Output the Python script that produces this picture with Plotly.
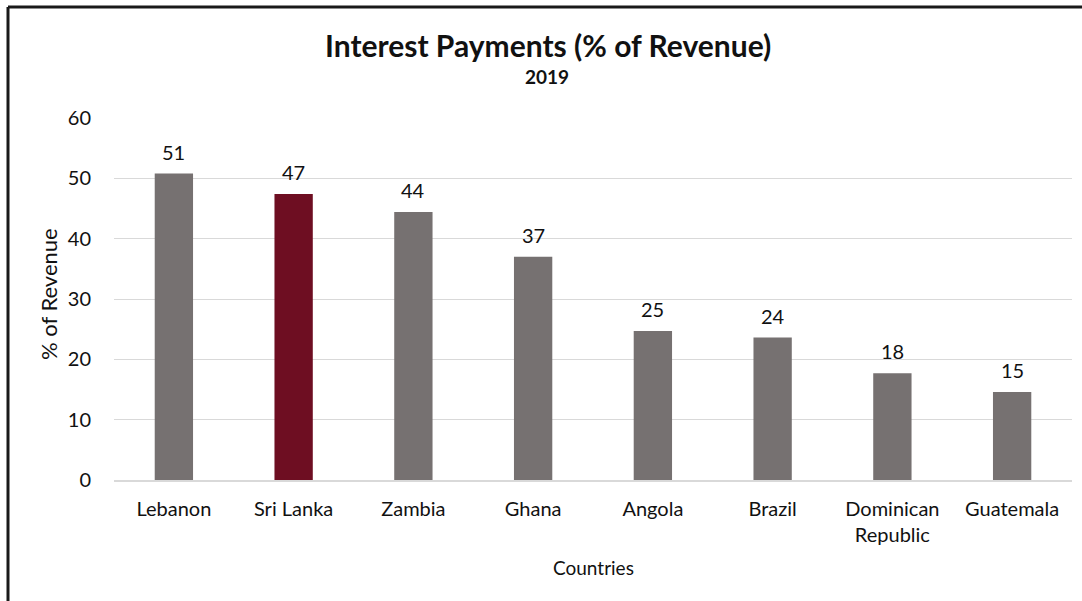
import plotly.graph_objects as go

# Interest payments as a share of government revenue, 2019
countries = ["Lebanon", "Sri Lanka", "Zambia", "Ghana", "Angola", "Brazil",
             "Dominican<br>Republic", "Guatemala"]
interest_pct = [50.8, 47.4, 44.4, 37.0, 24.7, 23.6, 17.7, 14.6]
highlight = "Sri Lanka"

y_ticks = [0, 10, 20, 30, 40, 50, 60]

GREY = "#767171"
MAROON = "#6e0e22"
FONT = "Lato, 'Open Sans', sans-serif"

W, H = 1082, 601
L, R, T, B = 114, 10, 118, 121
pw, ph = W - L - R, H - T - B


def px_x(x):
    return (x - L) / pw


def px_y(y):
    return (H - B - y) / ph


colors = [MAROON if c == highlight else GREY for c in countries]

fig = go.Figure(go.Bar(
    x=countries,
    y=interest_pct,
    marker=dict(color=colors, line=dict(width=0)),
    cliponaxis=False,
))

# value labels above each bar, rounded to whole percent
value_labels = [
    dict(x=c, y=v, xref="x", yref="y", text=f"{v:.0f}", showarrow=False,
         yanchor="bottom", yshift=8,
         font=dict(family=FONT, size=20, color="#111"))
    for c, v in zip(countries, interest_pct)
]

fig.update_layout(
    width=W, height=H,
    margin=dict(l=L, r=R, t=T, b=B),
    paper_bgcolor="white", plot_bgcolor="white",
    bargap=0.68,
    showlegend=False,
    font=dict(family=FONT, color="#111"),
    xaxis=dict(
        showgrid=False, showline=True, linecolor="#d9d9d9", linewidth=1.5,
        tickfont=dict(family=FONT, size=20, color="#111"),
        ticklabelstandoff=10, zeroline=False,
    ),
    yaxis=dict(
        range=[0, 60], tickvals=y_ticks,
        showgrid=True, gridcolor="#d9d9d9", gridwidth=1.2,
        zeroline=False, showline=False,
        tickfont=dict(family=FONT, size=20, color="#111"),
        ticklabelstandoff=22,
    ),
    annotations=value_labels + [
        dict(text="<b>Interest Payments (% of Revenue)</b>", xref="paper", yref="paper",
             x=px_x(548), y=px_y(45), yanchor="middle", showarrow=False,
             font=dict(family=FONT, size=30, color="#111")),
        dict(text="<b>2019</b>", xref="paper", yref="paper",
             x=px_x(547), y=px_y(77), yanchor="middle", showarrow=False,
             font=dict(family=FONT, size=19, color="#111")),
        dict(text="% of Revenue", xref="paper", yref="paper", textangle=-90,
             x=px_x(48), y=px_y(294), xanchor="center", yanchor="middle",
             showarrow=False, font=dict(family=FONT, size=22, color="#111")),
        dict(text="Countries", xref="paper", yref="paper",
             x=px_x(593), y=px_y(567), yanchor="middle", showarrow=False,
             font=dict(family=FONT, size=19, color="#111")),
    ],
    shapes=[
        dict(type="line", xref="paper", yref="paper",
             x0=px_x(8), x1=px_x(8), y0=px_y(7), y1=px_y(620),
             line=dict(color="#1a1a1a", width=3)),
        dict(type="line", xref="paper", yref="paper",
             x0=px_x(8), x1=px_x(1100), y0=px_y(7), y1=px_y(7),
             line=dict(color="#1a1a1a", width=3)),
    ],
)

fig.write_html("out.html")
